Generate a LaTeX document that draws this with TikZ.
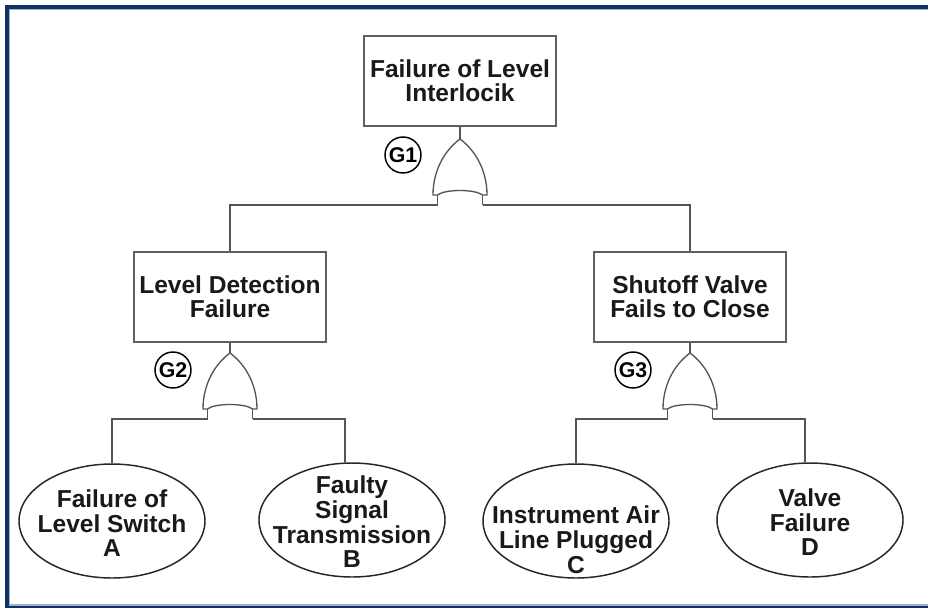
\documentclass[tikz,border=0pt]{standalone}
\usepackage{fontspec}
\setmainfont{Liberation Sans}
\usetikzlibrary{shapes.geometric}

\definecolor{framenavy}{HTML}{0C3462}
\definecolor{framelight}{HTML}{9FB3CD}
\definecolor{wiregray}{HTML}{555555}
\definecolor{boxgray}{HTML}{606060}

% event text in the ellipses: zero-size box, so the ellipse keeps its own size
\newcommand{\evtext}[2][-8.5pt]{\raisebox{#1}[0pt][0pt]{\makebox[0pt]{\smash{\begin{tabular}{@{}c@{}}#2\end{tabular}}}}}

\begin{document}
\begin{tikzpicture}[x=0.75pt, y=-0.75pt,
  font=\fontsize{18.4}{18}\selectfont\bfseries,
  fault/.style = {draw=boxgray, line width=1.1pt, rectangle, minimum width=144pt, minimum height=67.5pt, align=center, inner sep=1pt, text=black!90},
  basic/.style = {draw=black!85, line width=1.1pt, ellipse, minimum width=139.5pt, minimum height=85.5pt, inner sep=0pt, text=black!90},
  gatename/.style = {draw=black, line width=1.1pt, circle, minimum size=27pt, inner sep=0pt, font=\fontsize{16}{16}\selectfont\bfseries},
  wire/.style = {draw=wiregray, line width=1.1pt},
  orgate/.pic = {
    \draw[wire, line width=1pt, line join=round] (-27,56) .. controls (-27,31) and (-15,11) .. (0,0)
      .. controls (15,11) and (27,31) .. (27,56) -- (22.5,56)
      .. controls (15,50) and (-15,50) .. (-22.5,56) -- cycle;
    \draw[wire] (-22.5,56) -- (-22.5,66) coordinate (-left);
    \draw[wire] (22.5,56) -- (22.5,66) coordinate (-right);
    \coordinate (-top) at (0,0);
  }]

  \useasboundingbox (0,0) rectangle (928,608);
  \fill[white] (0,0) rectangle (928,608);

  % window frame
  \fill[framenavy] (5,5) rectangle (928,9);
  \fill[framenavy] (5,5) rectangle (8.5,608);
  \fill[framenavy] (5,605.5) rectangle (928,608);
  \fill[framelight] (8.5,9) rectangle (928,10.3);
  \fill[framelight] (8.5,9) rectangle (10.3,604.3);
  \fill[framelight] (8.5,604.3) rectangle (928,605.5);

  % top event
  \node[fault] (top) at (460,81) {Failure of Level\\Interlocik};
  \pic (g1) at (460,139) {orgate};
  \node[gatename] (g1name) at (403,155) {G1};

  % intermediate events
  \node[fault] (lvl) at (230,297) {Level Detection\\Failure};
  \node[fault] (valve) at (690,297) {Shutoff Valve\\Fails to Close};
  \pic (g2) at (230,353) {orgate};
  \node[gatename] (g2name) at (173,370) {G2};
  \pic (g3) at (690,353) {orgate};
  \node[gatename] (g3name) at (633,370) {G3};

  % basic events
  \node[basic] (a) at (112,521) {\evtext{Failure of\\Level Switch\\A}};
  \node[basic] (b) at (352,520) {\evtext{Faulty\\Signal\\Transmission\\B}};
  \node[basic] (c) at (576,521) {\evtext[-21pt]{Instrument Air\\Line Plugged\\C}};
  \node[basic] (d) at (810,520) {\evtext{Valve\\Failure\\D}};

  \draw[wire] (top.south) -- (g1-top);
  \draw[wire] (g1-left) -| (lvl.north);
  \draw[wire] (g1-right) -| (valve.north);
  \draw[wire] (lvl.south) -- (g2-top);
  \draw[wire] (valve.south) -- (g3-top);
  \draw[wire] (g2-left) -| (a.north);
  \draw[wire] (g2-right) -| (b.97);
  \draw[wire] (g3-left) -| (c.north);
  \draw[wire] (g3-right) -| (d.95);

\end{tikzpicture}
\end{document}
